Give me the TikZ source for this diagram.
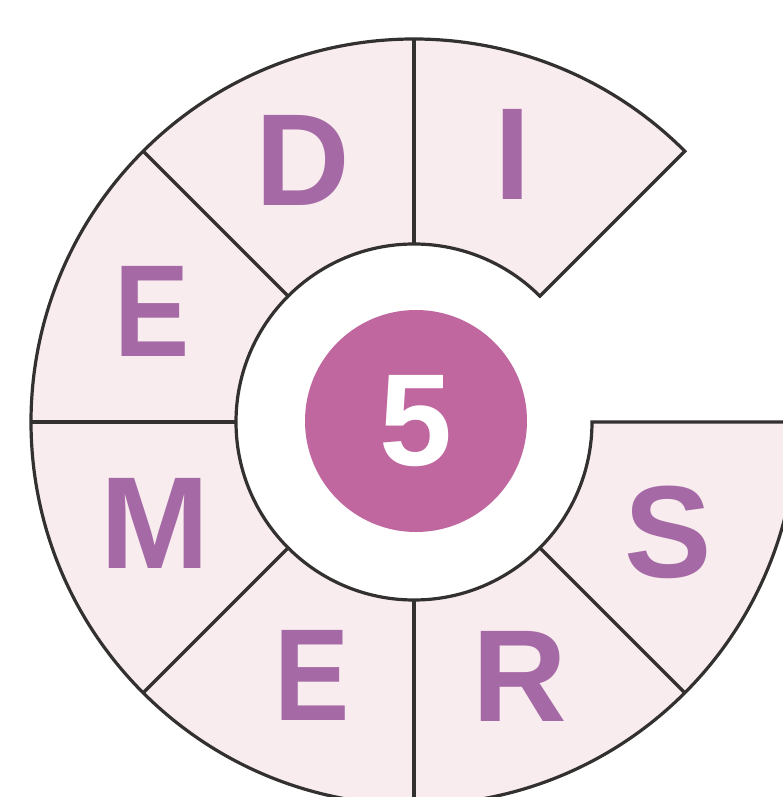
\documentclass[tikz,border=0pt]{standalone}
\usepackage{fontspec}
\setmainfont{Liberation Sans}
\definecolor{ringfill}{HTML}{F9ECEF}
\definecolor{ringline}{HTML}{333030}
\definecolor{hubfill}{HTML}{BF679E}
\definecolor{letterc}{HTML}{A56AA5}
\begin{document}
\begin{tikzpicture}[x=1pt,y=1pt,
  ring/.style={fill=ringfill,draw=ringline,line width=3.2pt,line join=miter},
  spoke/.style={draw=ringline,line width=3.2pt},
  letter/.style={text=letterc,font=\fontsize{131}{131}\selectfont\bfseries,inner sep=0pt,anchor=center},
  narrow/.style={xscale=0.86},
  hub/.style={circle,fill=hubfill,minimum size=222pt,inner sep=0pt,text=white,font=\fontsize{131}{131}\selectfont\bfseries}]
\useasboundingbox (0,0) rectangle (783,797);
\fill[white] (0,0) rectangle (783,797);
\clip (0,0) rectangle (783,797);
\coordinate (c) at (414,375);
\draw[ring] ([shift={(45:178)}]c) -- ([shift={(45:383)}]c)
  arc[start angle=45,end angle=360,radius=383]
  -- ([shift={(0:178)}]c)
  arc[start angle=360,end angle=45,radius=178] -- cycle;
\foreach \a in {90,135,180,225,270,315}
  \draw[spoke] ([shift={(\a:178)}]c) -- ([shift={(\a:383)}]c);
\node[hub] (h) at (416,376) {5};
\node[letter] (d) at (303,637) {D};
\node[letter] (i) at (513,643) {I};
\node[letter,narrow] (e1) at (152,486) {E};
\node[letter] (m) at (155,274) {M};
\node[letter,narrow] (e2) at (312,122) {E};
\node[letter] (r) at (520,121) {R};
\node[letter] (s) at (668,265) {S};
\end{tikzpicture}
\end{document}
